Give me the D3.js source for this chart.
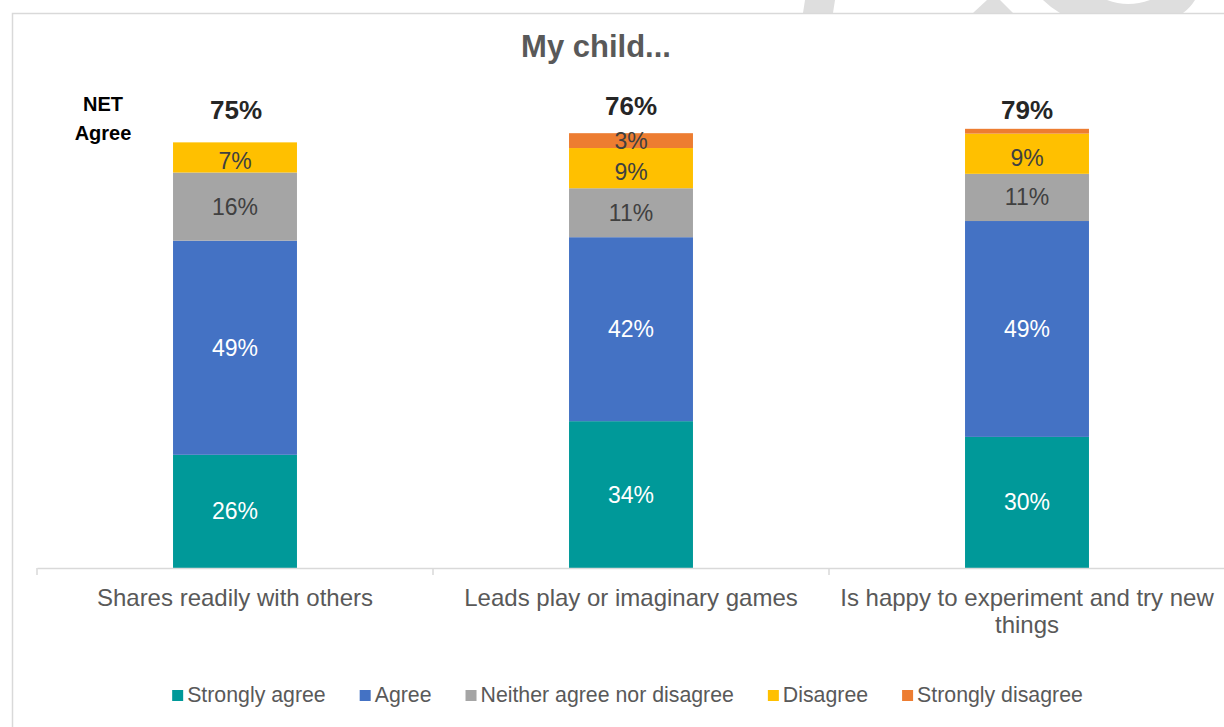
<!DOCTYPE html>
<html>
<head>
<meta charset="utf-8">
<script src="https://cdn.jsdelivr.net/npm/d3@7"></script>
<style>
  html, body { margin: 0; padding: 0; background: #fff; }
  svg { display: block; font-family: "Liberation Sans", Arial, sans-serif; }
</style>
</head>
<body>
<svg id="chart" width="1224" height="727"></svg>
<script>
// ---------- data ----------
const categories = ["Shares readily with others", "Leads play or imaginary games", "Is happy to experiment and try new things"];
const seriesNames = ["Strongly agree", "Agree", "Neither agree nor disagree", "Disagree", "Strongly disagree"];
const stronglyAgree = [25.9, 33.6, 30.0];
const agree = [49.0, 42.1, 49.4];
const neither = [15.6, 11.2, 10.8];
const disagree = [6.9, 9.2, 9.2];
const stronglyDisagree = [0, 3.4, 1.1];
const netAgree = [75, 76, 79];
const titleText = "My child...";
const netLabel = ["NET", "Agree"];

// ---------- styles ----------
const colors = ["#009999", "#4472C4", "#A5A5A5", "#FFC000", "#ED7D31"];
const labelColors = ["#ffffff", "#ffffff", "#404040", "#404040", "#404040"];

const svg = d3.select("#chart");

// watermark fragments peeking above the frame
const wm = svg.append("g").attr("fill", "#dedede");
wm.append("path").attr("d", "M805,0 L835,0 L833,13 L803,13 Z");
wm.append("path").attr("d", "M987,0 L1000,0 L1013,13 L973,13 Z");
wm.append("path").attr("d", "M1043,0 L1107,0 Q1128,8 1150,0 L1195,0 Q1190,8 1183,13 L1060,13 Q1050,7 1043,0 Z");

// frame
svg.append("rect").attr("x", 12.5).attr("y", 13.5).attr("width", 1400).attr("height", 900)
  .attr("fill", "none").attr("stroke", "#d9d9d9").attr("stroke-width", 1.5);

// title
svg.append("text").attr("x", 596).attr("y", 57).attr("text-anchor", "middle")
  .attr("font-size", 31).attr("font-weight", "bold").attr("fill", "#595959").text(titleText);

// scales
const plotLeft = 37, plotRight = 1225, baseY = 568;
const x = d3.scaleBand().domain(categories).range([plotLeft, plotRight]).padding(0);
const y = d3.scaleLinear().domain([0, 100]).range([baseY, 131]);
const barW = x.bandwidth() * 0.313;

const seriesArrays = [stronglyAgree, agree, neither, disagree, stronglyDisagree];
const rows = categories.map((c, i) => {
  const r = { cat: c };
  seriesNames.forEach((s, j) => r[s] = seriesArrays[j][i]);
  return r;
});
const stack = d3.stack().keys(seriesNames)(rows);

const fmt = v => d3.format(".0f")(v) + "%";

const gBars = svg.append("g");
stack.forEach((layer, j) => {
  const g = gBars.append("g");
  g.selectAll("rect").data(layer).join("rect")
    .attr("x", d => x(d.data.cat) + x.bandwidth() / 2 - barW / 2)
    .attr("width", barW)
    .attr("y", d => y(d[1]))
    .attr("height", d => Math.max(0, y(d[0]) - y(d[1])))
    .attr("fill", colors[j]);
  g.selectAll("text").data(layer.filter(d => (d[1] - d[0]) >= 2)).join("text")
    .attr("x", d => x(d.data.cat) + x.bandwidth() / 2)
    .attr("y", d => (y(d[0]) + y(d[1])) / 2 + 8 + (j === 3 ? 4 : 0))
    .attr("text-anchor", "middle")
    .attr("font-size", 23)
    .attr("fill", labelColors[j])
    .text(d => fmt(d[1] - d[0]));
});

// x axis
const axis = d3.axisBottom(x).tickSize(0).tickPadding(0);
const gx = svg.append("g").attr("transform", `translate(0,${baseY})`).call(axis);
gx.select(".domain").attr("stroke", "#d9d9d9").attr("stroke-width", 1.5);
gx.selectAll(".tick text").remove();
gx.selectAll(".bound").data(d3.range(categories.length + 1)).join("line")
  .attr("class", "bound")
  .attr("x1", i => plotLeft + i * x.step()).attr("x2", i => plotLeft + i * x.step())
  .attr("y1", 0).attr("y2", 7)
  .attr("stroke", "#d9d9d9").attr("stroke-width", 1.5);

// category labels with wrapping
const catFont = 24;
function wrapLines(text, maxW, size) {
  const ctx = document.createElement("canvas").getContext("2d");
  ctx.font = `${size}px "Liberation Sans", Arial, sans-serif`;
  const words = text.split(" ");
  const lines = [];
  let line = "";
  words.forEach(w => {
    const t = line ? line + " " + w : w;
    if (ctx.measureText(t).width > maxW && line) { lines.push(line); line = w; }
    else line = t;
  });
  if (line) lines.push(line);
  return lines;
}
categories.forEach(c => {
  const lines = wrapLines(c, x.bandwidth() - 4, catFont);
  const t = svg.append("text").attr("text-anchor", "middle").attr("font-size", catFont).attr("fill", "#595959");
  lines.forEach((l, k) => {
    t.append("tspan").attr("x", x(c) + x.bandwidth() / 2).attr("y", 606 + k * 27).text(l);
  });
});

// NET agree labels
const netDy = [0, -4, 0];
svg.selectAll(".net").data(netAgree).join("text")
  .attr("class", "net")
  .attr("x", (d, i) => x(categories[i]) + x.bandwidth() / 2 + (i === 0 ? 1 : 0))
  .attr("y", (d, i) => 119 + netDy[i])
  .attr("text-anchor", "middle")
  .attr("font-size", 26).attr("font-weight", "bold").attr("fill", "#262626")
  .text(d => d + "%");

const netT = svg.append("text").attr("text-anchor", "middle").attr("font-size", 20)
  .attr("font-weight", "bold").attr("fill", "#000");
netLabel.forEach((l, k) => netT.append("tspan").attr("x", 103).attr("y", 111 + k * 29).text(l));

// legend
const legFont = 21.3;
const ctxL = document.createElement("canvas").getContext("2d");
ctxL.font = `${legFont}px "Liberation Sans", Arial, sans-serif`;
const sw = 11, swGap = 4, itemGap = 34;
const widths = seriesNames.map(s => sw + swGap + ctxL.measureText(s).width);
const totalW = d3.sum(widths) + itemGap * (seriesNames.length - 1);
let lx = 627.5 - totalW / 2;
const leg = svg.append("g");
seriesNames.forEach((s, j) => {
  leg.append("rect").attr("x", lx).attr("y", 690).attr("width", sw).attr("height", sw).attr("fill", colors[j]);
  leg.append("text").attr("x", lx + sw + swGap).attr("y", 702).attr("font-size", legFont)
    .attr("fill", "#595959").text(s);
  lx += widths[j] + itemGap;
});
</script>
</body>
</html>
